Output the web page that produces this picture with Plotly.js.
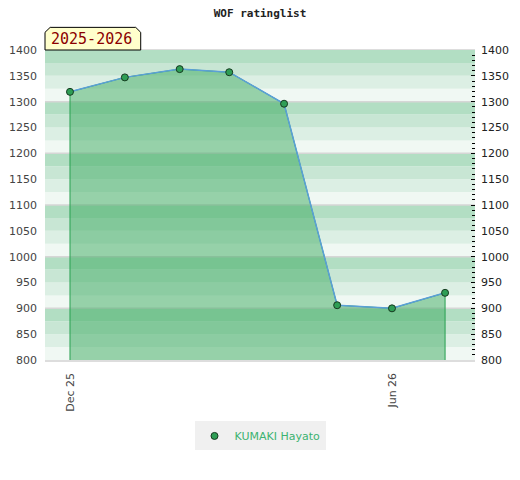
<!DOCTYPE html>
<html>
<head>
<meta charset="utf-8">
<script src="https://cdn.plot.ly/plotly-3.0.1.min.js"></script>
<style>html,body{margin:0;padding:0;background:#fff;}#chart{width:520px;height:480px;}</style>
</head>
<body>
<div id="chart"></div>
<script>
// Data
const dates = ['2025-12-01','2026-01-01','2026-02-01','2026-03-01','2026-04-01','2026-05-01','2026-06-01','2026-07-01'];
const ratings = [1319, 1347, 1363, 1357, 1296, 906, 900, 930];
const playerName = 'KUMAKI Hayato';
const seasonLabel = '2025-2026';
const chartTitle = 'WOF ratinglist';
const yMin = 800, yMax = 1400;

const bandColors = ['#f0f8f3', '#dcefe4', '#c8e6d4', '#b2dec3'];
const shapes = [];
for (let v = yMin, k = 0; v < yMax; v += 25, k++) {
  shapes.push({type:'rect', xref:'paper', yref:'y', x0:0, x1:1, y0:v, y1:v+25,
    fillcolor:bandColors[k % 4], line:{width:0}, layer:'below'});
}
for (let v = yMin + 100; v < yMax; v += 100) {
  shapes.push({type:'line', xref:'paper', yref:'y', x0:0, x1:1, y0:v, y1:v,
    line:{color:'#d6d6d6', width:1.5}, layer:'below'});
}
// season label box with chamfered top corners
shapes.push({type:'path', xref:'paper', yref:'paper',
  path:'M 0,1 L 0,1.057 L 0.012,1.073 L 0.211,1.073 L 0.2226,1.057 L 0.2226,1 Z',
  fillcolor:'#ffffcc', line:{color:'#000', width:1}, layer:'above'});

const polyX = [dates[0]].concat(dates, [dates[dates.length-1]]);
const polyY = [yMin].concat(ratings, [yMin]);

const traces = [
  {x: polyX, y: polyY, mode:'lines', fill:'toself', fillcolor:'rgba(60,170,95,0.5)',
   line:{color:'#27a050', width:1}, hoverinfo:'skip', showlegend:false},
  {x: dates, y: ratings, mode:'lines', line:{color:'#5b9fd8', width:1.5}, showlegend:false},
  {x: dates, y: ratings, mode:'markers', name: playerName,
   marker:{color:'#2e9e55', size:7, line:{color:'#163a20', width:1}}},
  {x: dates, y: ratings, yaxis:'y2', mode:'markers', marker:{opacity:0}, showlegend:false, hoverinfo:'skip'}
];

const layout = {
  width:520, height:480,
  margin:{l:45, r:45, t:50, b:120},
  paper_bgcolor:'#fff', plot_bgcolor:'rgba(0,0,0,0)',
  title:{text: chartTitle, x:0.5, xanchor:'center', y:0.973, yanchor:'middle',
    font:{family:'DejaVu Sans Mono', size:11, color:'#222', weight:'bold'}},
  xaxis:{type:'date', range:['2025-11-16 21:00','2026-07-17 22:00'],
    tick0:'2025-12-01', dtick:'M6', tickformat:'%b %y', tickangle:-90, ticklabelstandoff:7,
    showgrid:false, zeroline:false, showline:true, linecolor:'#dddddd', linewidth:1.5, mirror:true,
    ticks:'', tickfont:{family:'DejaVu Sans', size:11, color:'#444'}},
  yaxis:{range:[yMin, yMax], dtick:50, showgrid:false, zeroline:false, ticklabelstandoff:7,
    showline:false, ticks:'', tickfont:{family:'DejaVu Sans', size:11, color:'#444'}},
  yaxis2:{range:[yMin, yMax], dtick:50, overlaying:'y', side:'right', showgrid:false, zeroline:false,
    showline:false, ticks:'inside', ticklen:4, tickcolor:'#000', tickwidth:1, ticklabelstandoff:5,
    minor:{dtick:10, ticks:'inside', ticklen:3, tickcolor:'#000', tickwidth:1, showgrid:false},
    tickfont:{family:'DejaVu Sans', size:11, color:'#222'}},
  shapes: shapes,
  annotations:[{text: seasonLabel, xref:'paper', yref:'paper', x:0.109, y:1.035,
    xanchor:'center', yanchor:'middle', showarrow:false,
    font:{family:'DejaVu Sans Mono', size:15, color:'#8b0000'}}],
  legend:{orientation:'h', x:0.5, xanchor:'center', y:-0.245, yanchor:'middle',
    bgcolor:'#f0f0f0', font:{family:'DejaVu Sans', size:11, color:'#3cb371'}},
  showlegend:true
};

Plotly.newPlot('chart', traces, layout, {displayModeBar:false, staticPlot:true});
</script>
</body>
</html>
